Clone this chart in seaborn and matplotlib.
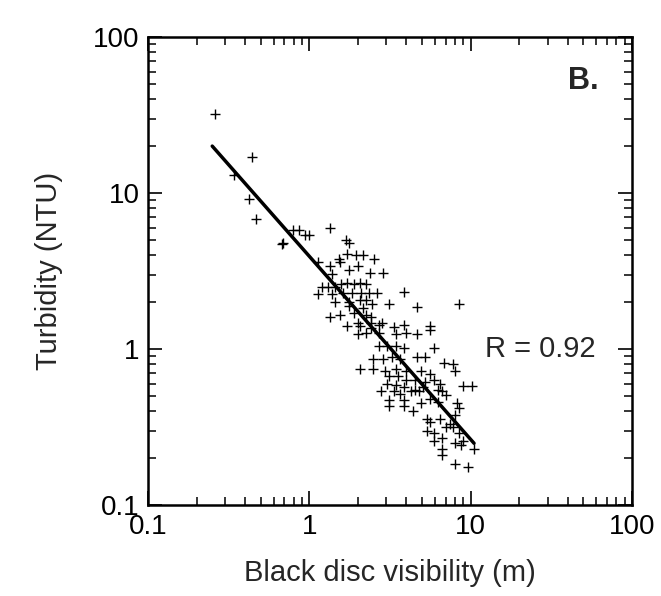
import numpy as np
import pandas as pd
import matplotlib
matplotlib.use("Agg")
import matplotlib.pyplot as plt
import matplotlib.ticker as mticker
import seaborn as sns

# Black disc visibility (m) vs turbidity (NTU)
visibility = [
    0.26, 0.44, 0.34, 0.42, 0.47, 0.68, 0.69, 0.79, 0.86, 0.94, 1.0, 1.35,
    1.13, 1.35, 1.69, 1.77, 1.53, 1.72, 1.94, 2.15, 2.52, 1.55, 1.77, 2.37,
    2.87, 1.39, 2.0, 1.2, 1.31, 1.44, 1.57, 1.72, 1.88, 2.06, 2.26, 1.13,
    1.39, 1.62, 1.83, 2.1, 2.33, 2.63, 1.44, 1.77, 2.06, 2.26, 2.43, 1.77,
    2.15, 1.35, 1.55, 1.88, 2.26, 2.4, 3.14, 3.88, 4.65, 8.5, 1.72, 2.06,
    2.4, 2.7, 3.34, 3.88, 5.56, 2.0, 2.26, 2.7, 3.44, 4.0, 4.65, 5.56,
    2.0, 2.4, 2.82, 2.7, 3.05, 3.44, 3.88, 4.65, 5.24, 5.9, 2.47, 2.87,
    3.24, 3.65, 2.06, 2.47, 2.96, 3.44, 4.0, 4.93, 5.56, 6.87, 7.75, 3.14,
    3.55, 4.0, 4.5, 5.24, 5.9, 6.47, 7.98, 3.05, 3.44, 3.88, 4.5, 5.08,
    6.28, 7.08, 2.79, 3.34, 3.65, 4.25, 4.79, 6.67, 3.14, 3.88, 4.93, 5.56,
    6.28, 8.23, 9.0, 10.2, 3.14, 3.88, 4.38, 8.5, 7.98, 5.4, 5.56, 6.47,
    7.08, 7.5, 5.4, 5.9, 6.67, 7.75, 8.5, 5.9, 6.67, 7.98, 8.74, 6.67,
    9.0, 10.5, 7.98, 9.57,
]
turbidity = [
    32, 17, 13, 9.1, 6.8, 4.7, 4.8, 5.8, 5.8, 5.4, 5.4, 6.0,
    3.6, 3.4, 5.0, 4.8, 3.8, 4.05, 4.0, 4.0, 3.8, 3.6, 3.2, 3.1,
    3.1, 3.05, 3.4, 2.5, 2.5, 2.5, 2.6, 2.66, 2.6, 2.66, 2.6, 2.25,
    2.25, 2.3, 2.3, 2.3, 2.3, 2.3, 2.0, 2.0, 2.06, 2.06, 1.95, 1.9,
    1.85, 1.6, 1.65, 1.7, 1.65, 1.6, 1.95, 2.34, 1.87, 1.95, 1.4, 1.4,
    1.36, 1.43, 1.39, 1.43, 1.4, 1.25, 1.28, 1.28, 1.25, 1.28, 1.25, 1.32,
    1.47, 1.47, 1.47, 1.05, 1.05, 1.05, 1.02, 0.89, 0.89, 1.02, 0.87, 0.87,
    0.89, 0.87, 0.75, 0.75, 0.73, 0.75, 0.73, 0.73, 0.69, 0.82, 0.80, 0.67,
    0.67, 0.64, 0.64, 0.62, 0.64, 0.60, 0.73, 0.60, 0.59, 0.57, 0.55, 0.57,
    0.55, 0.51, 0.54, 0.54, 0.52, 0.54, 0.54, 0.54, 0.47, 0.47, 0.45, 0.48,
    0.46, 0.45, 0.58, 0.58, 0.43, 0.43, 0.40, 0.42, 0.38, 0.36, 0.34, 0.36,
    0.32, 0.33, 0.30, 0.29, 0.27, 0.32, 0.29, 0.26, 0.23, 0.25, 0.245, 0.21,
    0.26, 0.23, 0.185, 0.175,
]

# regression line end points
fit_x = [0.25, 10.5]
fit_y = [20, 0.25]

decade_ticks = [0.1, 1, 10, 100]
decade_labels = ["0.1", "1", "10", "100"]

df = pd.DataFrame({"visibility": visibility, "turbidity": turbidity})
fit = pd.DataFrame({"x": fit_x, "y": fit_y})

sns.set_style("ticks")
plt.rcParams['font.family'] = ['Liberation Sans', 'DejaVu Sans']

fig = plt.figure(figsize=(6.61, 5.96), dpi=100)
ax = fig.add_axes([0.224, 0.152, 0.732, 0.786])

sns.scatterplot(data=df, x="visibility", y="turbidity", marker="+",
                color="black", s=55, linewidth=1.0, ax=ax, zorder=3)
sns.lineplot(data=fit, x="x", y="y", color="black", linewidth=2.5, ax=ax)

ax.set_xscale("log")
ax.set_yscale("log")
ax.set_xlim(0.1, 100)
ax.set_ylim(0.1, 100)

for axis in (ax.xaxis, ax.yaxis):
    axis.set_major_locator(mticker.FixedLocator(decade_ticks))
    axis.set_major_formatter(mticker.FixedFormatter(decade_labels))
    axis.set_minor_locator(mticker.LogLocator(base=10, subs=np.arange(2, 10)))
    axis.set_minor_formatter(mticker.NullFormatter())

ax.tick_params(which="both", direction="in", top=True, right=True,
               colors="black", labelsize=20)
ax.tick_params(which="major", length=10, width=1.2, pad=6)
ax.tick_params(which="minor", length=6, width=1.1)
for sp in ax.spines.values():
    sp.set_linewidth(1.8)
    sp.set_color("black")

ax.set_xlabel("Black disc visibility (m)", fontsize=21, labelpad=14)
ax.set_ylabel("Turbidity (NTU)", fontsize=21, labelpad=22)

ax.text(12.2, 1.0, "R = 0.92", fontsize=21, va="center", ha="left")
ax.text(40, 52, "B.", fontsize=22, fontweight="bold", va="center", ha="left")

fig.savefig("out.png", dpi=100, facecolor="white")
